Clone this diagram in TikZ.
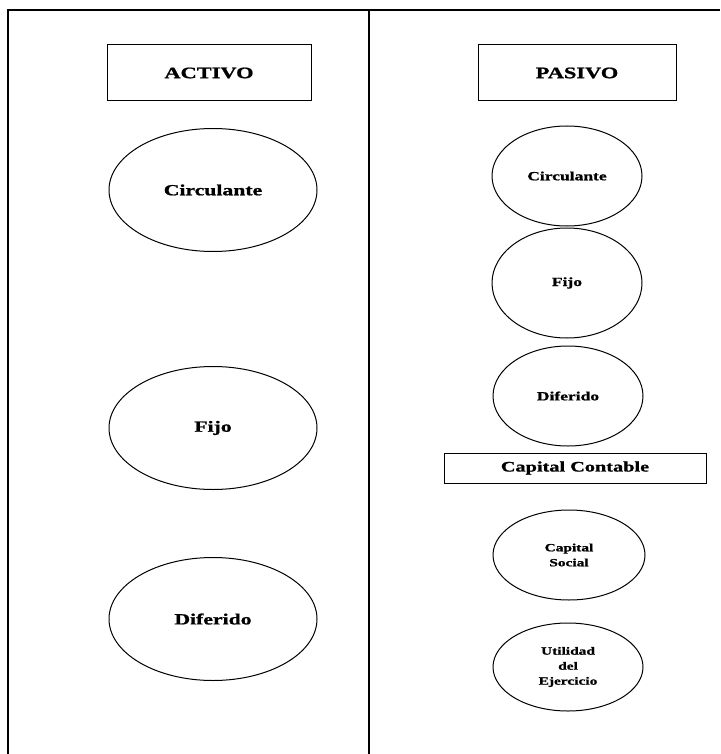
\documentclass[tikz,border=0pt]{standalone}
\usepackage{fontspec}
\usetikzlibrary{shapes.geometric}
\newfontfamily\heavy{Liberation Serif}[UprightFont={* Bold}, FakeStretch=1.4, FakeBold=1.1]
\begin{document}
\begin{tikzpicture}[x=1pt,y=-1pt,
  frameline/.style={line width=1.2pt},
  titlebox/.style={draw, line width=1pt, minimum height=56pt, font=\heavy\fontsize{16}{18}\selectfont},
  bigoval/.style={draw, ellipse, line width=1pt, inner sep=0pt, minimum width=208pt, minimum height=123pt, font=\heavy\fontsize{15.5}{18}\selectfont},
  smalloval/.style={draw, ellipse, line width=1pt, inner sep=0pt, minimum width=150pt, minimum height=110pt, font=\heavy\fontsize{12.5}{14}\selectfont, align=center},
  stackoval/.style={smalloval, font=\heavy\fontsize{11}{15}\selectfont}
]
\useasboundingbox (0,0) rectangle (720,754);
% outer frame and column divider
\coordinate (tl) at (8,10);
\coordinate (tr) at (720,10);
\coordinate (bl) at (8,754);
\coordinate (mt) at (369,10);
\coordinate (mb) at (369,754);
\draw[frameline] (bl) -- (tl) -- (tr);
\draw[frameline] (mt) -- (mb);

% left column: ACTIVO
\node[titlebox, minimum width=204pt] (activo) at (209,73) {ACTIVO};
\node[bigoval] (acirc) at (213,190) {Circulante};
\node[bigoval] (afijo) at (213,428) {Fijo};
\node[bigoval] (adif) at (213,619) {Diferido};

% right column: PASIVO
\node[titlebox, minimum width=198pt] (pasivo) at (577,73) {PASIVO};
\node[smalloval, minimum height=100pt] (pcirc) at (567,176) {Circulante};
\node[smalloval] (pfijo) at (567,283) {Fijo};
\node[smalloval, minimum height=100pt] (pdif) at (568,396) {Diferido};

% capital contable
\node[draw, line width=1pt, minimum width=262pt, minimum height=30pt, font=\heavy\fontsize{14.5}{16}\selectfont] (capcont) at (575,468) {Capital Contable};
\node[stackoval, minimum width=152pt, minimum height=90pt] (capsoc) at (569,555) {Capital\\Social};
\node[stackoval, minimum width=150pt, minimum height=88pt] (util) at (568,667) {Utilidad\\del\\Ejercicio};
\end{tikzpicture}
\end{document}
